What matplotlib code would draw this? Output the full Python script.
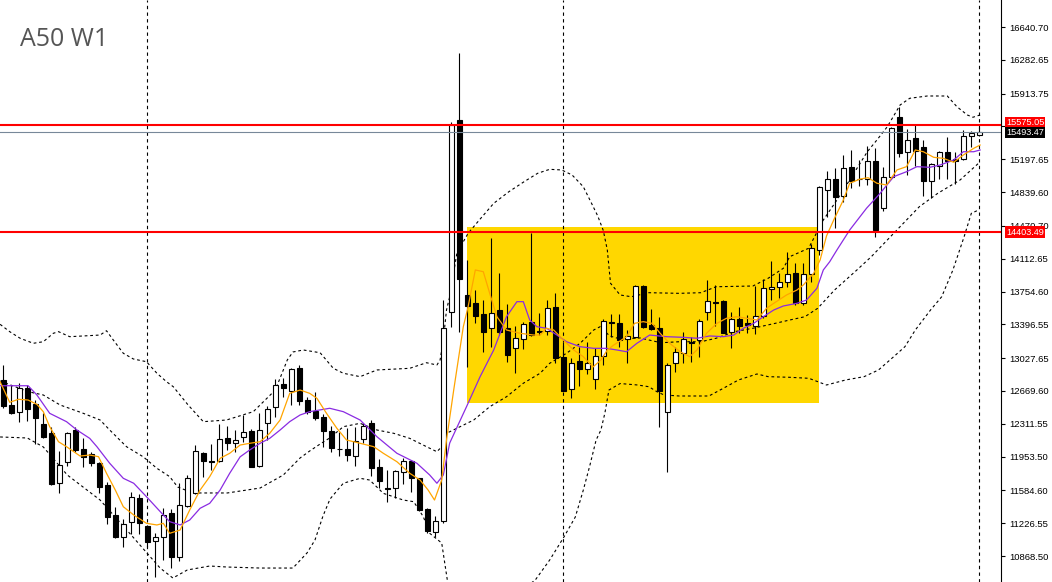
import matplotlib
matplotlib.use("Agg")
import matplotlib.pyplot as plt
import matplotlib.transforms as mtransforms
from matplotlib.patches import Rectangle

plt.rcParams['font.family'] = ['Liberation Sans', 'DejaVu Sans']

title = "A50 W1"

# Weekly OHLC (candle index 0..122, left to right)
opens = [12790, 12517, 12437, 12699, 12528, 12310, 12208, 11663, 11892, 12244,
         12037, 11979, 11881, 11641, 11317, 11073, 11237, 11499, 11197, 11036,
         11073, 11335, 10855, 11418, 11553, 11993, 11906, 11906, 12153, 12099,
         12171, 12233, 11855, 12317, 12492, 12746, 12673, 12917, 12571, 12451,
         12389, 12233, 12037, 12037, 11964, 12143, 12317, 11844, 11612, 11608,
         11789, 11906, 11717, 11379, 11135, 11251, 13531, 15626, 13717, 13626,
         13509, 13354, 13553, 13354, 13135, 13234, 13419, 13320, 13324, 13583,
         13044, 12688, 12997, 12910, 12797, 13055, 13422, 13408, 13237, 13255,
         13815, 13390, 13354, 12437, 12972, 13081, 13200, 13226, 13528, 13644,
         13651, 13316, 13452, 13408, 13379, 13491, 13779, 13801, 13855, 13960,
         13626, 13946, 14208, 14862, 14982, 14800, 15110, 14985, 14982, 15179,
         14663, 15001, 15656, 15280, 15426, 15335, 14964, 15128, 15280, 15201,
         15201, 15452, 15462]
highs = [12953, 12735, 12754, 12735, 12571, 12433, 12280, 12015, 12226, 12274,
         12153, 12007, 11898, 11680, 11407, 11273, 11571, 11543, 11208, 11124,
         11390, 11382, 11663, 11753, 12080, 12004, 12088, 12310, 12288, 12244,
         12408, 12255, 12426, 12506, 12797, 12808, 12917, 12953, 12607, 12662,
         12419, 12288, 12226, 12262, 12280, 12324, 12353, 11924, 11808, 11810,
         11935, 11920, 11725, 11390, 11306, 13662, 15604, 16354, 14099, 13771,
         13662, 14335, 13960, 13619, 13379, 13426, 14390, 13520, 13662, 13735,
         13207, 13026, 13153, 13200, 13135, 13452, 13506, 13506, 13335, 13826,
         13826, 13561, 13474, 12972, 13146, 13310, 13255, 13455, 13881, 13826,
         13662, 13535, 13583, 13499, 13818, 13888, 14088, 13954, 14189, 14063,
         14063, 14273, 14906, 15073, 15099, 15244, 15299, 15190, 15342, 15317,
         15110, 15545, 15771, 15525, 15579, 15408, 15154, 15288, 15444, 15280,
         15517, 15506, 15553]
lows = [12481, 12419, 12335, 12342, 12088, 12153, 11644, 11560, 11855, 12007,
        11844, 11855, 11560, 11219, 11066, 10971, 11109, 11109, 10971, 10644,
        10826, 10735, 10818, 11405, 11545, 11735, 11808, 11900, 12026, 12007,
        12116, 11837, 11837, 12135, 12383, 12607, 12517, 12517, 12415, 12353,
        12062, 12007, 11960, 11909, 11855, 12099, 11745, 11608, 11462, 11499,
        11652, 11571, 11360, 11124, 11073, 11233, 13371, 13316, 12935, 13408,
        13098, 13150, 13280, 12989, 12863, 13124, 13270, 13280, 13280, 12978,
        12665, 12596, 12727, 12850, 12688, 12953, 13262, 13153, 12972, 13245,
        13354, 13335, 12274, 11789, 12880, 12978, 12985, 13044, 13444, 13379,
        13299, 13135, 13299, 13299, 13288, 13463, 13662, 13681, 13801, 13608,
        13608, 13862, 14153, 14571, 14445, 14735, 14881, 14906, 14917, 14346,
        14637, 14990, 15219, 15026, 15124, 14797, 14772, 14982, 14979, 14928,
        15190, 15335, 15455]
closes = [12509, 12426, 12699, 12473, 12378, 12171, 11655, 11859, 12208, 12026,
          11953, 11887, 11625, 11298, 11073, 11215, 11510, 11233, 11025, 11080,
          11314, 10855, 11423, 11717, 12015, 11909, 11900, 12143, 12105, 12135,
          12226, 11844, 12244, 12470, 12735, 12699, 12906, 12564, 12437, 12378,
          12236, 12044, 12034, 11975, 12121, 12288, 11826, 11691, 11605, 11797,
          11906, 11717, 11371, 11145, 11251, 13354, 15572, 13888, 13597, 13491,
          13310, 13517, 13310, 13062, 13245, 13397, 13280, 13312, 13578, 13033,
          12673, 12972, 12910, 12972, 13051, 13433, 13416, 13226, 13270, 13815,
          13364, 13346, 12673, 12953, 13092, 13237, 13190, 13433, 13651, 13626,
          13306, 13452, 13382, 13390, 13491, 13790, 13801, 13855, 13946, 13626,
          13946, 14226, 14892, 14982, 14789, 15099, 14964, 14978, 15179, 14426,
          15001, 15536, 15269, 15408, 15291, 14964, 15143, 15280, 15182, 15179,
          15452, 15481, 15493.47]

# Indicator lines (x in candle-index units)
bb_upper_x = [-0.4, 0.8, 2.1, 3.75, 5, 6.25, 6.9, 8.3, 10, 12.1, 12.9, 13.75, 15, 16.25, 17.9,
              19.2, 20.4, 21.25, 23.1, 25, 27.9, 31.25, 34, 35.5, 36.2, 37.5, 39.6, 41.25, 42.5,
              44.6, 46.7, 48.3, 50.8, 52.9, 54.2, 54.6, 55, 55.4, 55.8, 56.7, 58.1, 59.5, 61.3,
              63.2, 65.1, 66.8, 68.3, 69.8, 71.1, 72.5, 73.4, 74.3, 75.0, 75.5, 75.9, 77.1,
              78.5, 80.7, 84.5, 87.2, 89.1, 93.7, 95.6, 97.5, 98.3, 100.65, 102.5, 104.2, 105.8,
              108, 109.2, 110.5, 112.1, 113.3, 115.5, 118, 119.2, 120.5, 121.2, 122.1]
bb_upper = [13397, 13317, 13245, 13190, 13207, 13299, 13317, 13262, 13270, 13280, 13327, 13226,
            13081, 13019, 12989, 12863, 12771, 12716, 12517, 12335, 12353, 12444, 12680, 13008,
            13095, 13117, 13087, 12917, 12863, 12826, 12899, 12906, 12917, 12978, 12953, 13008,
            13226, 13553, 13698, 14175, 14390, 14535, 14717, 14844, 14953, 15045, 15088, 15081,
            15026, 14898, 14740, 14580, 14420, 14208, 13845, 13717, 13698, 13742, 13735,
            13742, 13807, 13815, 13899, 14008, 14135, 14226, 14535, 14753, 14972, 15280, 15408,
            15553, 15790, 15863, 15888, 15888, 15771, 15681, 15656, 15681]

bb_mid_x = [-0.4, 3.1, 5, 7.1, 10, 12.1, 13.3, 15.4, 17.5, 19.2, 20.8, 21.8, 23.7, 28, 32.1, 35,
            37.1, 38.3, 39.6, 40.8, 42.5, 44.6, 46.7, 48.8, 50.8, 52.9, 54.2, 55, 55.4, 57.1,
            58.8, 60.8, 62.9, 65, 67.1, 68.3, 70.4, 72.1, 73.8, 74.6, 75.8, 77.1, 79.6, 82.2,
            84.5, 87.2, 89.1, 91.4, 93.7, 96.5, 98.3, 100.2, 101.8, 103.9, 106.7, 108.5, 111.3,
            114.5, 116.8, 119.6, 121.9]
bb_mid = [12779, 12662, 12626, 12517, 12426, 12353, 12244, 12062, 11951, 11826, 11735, 11622,
          11557, 11557, 11611, 11753, 11939, 12015, 12091, 12157, 12280, 12317, 12244, 12208,
          12153, 12062, 12007, 12080, 12208, 12280, 12353, 12498, 12607, 12754, 12863, 12972,
          13081, 13190, 13335, 13371, 13270, 13237, 13248, 13196, 13207, 13207, 13245, 13317,
          13354, 13408, 13444, 13480, 13572, 13771, 13990, 14135, 14390, 14680, 14826, 14972,
          15154]

bb_lower_x = [-0.4, 3, 5, 8, 12.1, 16.2, 19.6, 21.2, 23, 25.8, 28, 32.1, 36.2, 37.96, 38.96,
              39.96, 40.84, 42.5, 44.6, 45.8, 47.5, 50, 51.3, 52.5, 53.3, 54.8, 55.5, 56.1, 58.1,
              61.3, 64, 66.5, 68.3, 70.1, 71.5, 72.5, 73.3, 74.1, 74.7, 75.2, 75.7, 77.1, 79.3,
              80.7, 81.7, 82.6, 84.5, 88.2, 90, 91.9, 94.2, 95.6, 98.3, 100.7, 102.9, 105.3,
              107.6, 109.4, 111.3, 112.7, 114, 115.9, 117.3, 118.7, 120.1, 121, 121.9]
bb_lower = [12168, 12157, 12059, 11753, 11480, 11077, 10738, 10629, 10717, 10760, 10749, 10738,
            10738, 10902, 11044, 11306, 11491, 11663, 11717, 11698, 11553, 11480, 11462, 11298,
            11117, 11011, 10608, 10444, 10269, 10324, 10444, 10608, 10826, 11080, 11295, 11589,
            11851, 12135, 12244, 12430, 12680, 12751, 12735, 12716, 12662, 12626, 12615, 12615,
            12699, 12790, 12855, 12826, 12819, 12808, 12735, 12790, 12826, 12899, 13044, 13153,
            13335, 13553, 13698, 13990, 14353, 14608, 14644]

ma_slow_x = [-0.4, 3.1, 4.2, 5.8, 7.9, 9.2, 10.8, 11.7, 13.3, 15, 16.3, 17.9, 20, 20.8, 22.1,
             23.3, 24.6, 25.8, 27.1, 28.3, 29.6, 30.8, 32.1, 33.3, 34.6, 35.8, 37.1, 38.3, 40.8,
             42.5, 44.6, 46.7, 49.2, 51.7, 53.3, 54.2, 55, 55.8, 57.9, 59.6, 61.3, 62.9, 64.2,
             65, 65.8, 66.7, 67.9, 69.2, 70.4, 72.1, 73.8, 75.4, 76.7, 77.9, 79.2, 80.8, 82.9,
             85, 86.7, 88.3, 90, 91.3, 92.5, 93.8, 95, 96.3, 97.5, 99.2, 100.4, 101.7, 102.5,
             103.3, 104.2, 105.8, 107.9, 109.6, 111.3, 112.9, 114.2, 115.8, 117.1, 118.8, 120,
             121.3, 122.1]
ma_slow = [12727, 12727, 12626, 12426, 12335, 12244, 12153, 12062, 11881, 11717, 11663, 11516,
           11317, 11244, 11208, 11262, 11390, 11444, 11589, 11772, 11951, 12026, 12099, 12153,
           12244, 12335, 12408, 12444, 12481, 12444, 12353, 12171, 11990, 11881, 11753, 11663,
           11753, 12102, 12498, 12826, 13117, 13480, 13644, 13644, 13444, 13371, 13354, 13280,
           13207, 13153, 13135, 13135, 13117, 13098, 13190, 13280, 13262, 13255, 13245, 13270,
           13262, 13280, 13354, 13408, 13480, 13553, 13597, 13626, 13662, 13790, 13990, 14080,
           14208, 14426, 14663, 14826, 15008, 15062, 15117, 15110, 15135, 15190, 15280, 15280,
           15299]

ma_fast_x = [-0.4, 0.8, 1.9, 3.1, 4.2, 5, 5.8, 6.9, 7.9, 9.6, 10.8, 11.9, 12.9, 14, 15, 16.3,
             17.9, 19.2, 20, 20.8, 22.1, 23.3, 24.6, 25.8, 27.1, 28.3, 29.6, 30.8, 32.1, 33.3,
             34.6, 35.8, 37.1, 38.3, 39.2, 40.4, 41.7, 42.9, 44.6, 46.3, 47.5, 49.2, 50.8, 52.1,
             53.1, 53.9, 54.8, 55.4, 56.3, 57.5, 58.1, 59, 60, 60.8, 61.7, 62.9, 64.6, 66.3, 67.1,
             67.9, 68.8, 70, 71.3, 72.5, 73.7, 74.7, 75.5, 76.3, 77.9, 78.9, 80, 81.1, 82.1, 83.3,
             84.6, 85.8, 86.7, 87.9, 89.2, 90.4, 91.7, 92.9, 94.2, 95.4, 96.3, 97.9, 99.2, 100,
             101.3, 102.1, 102.9, 103.8, 105, 105.8, 107.1, 108.1, 109.2, 110.4, 111.7, 112.9,
             114, 115, 116.3, 117.5, 118.8, 120, 121.3, 122.1]
ma_fast = [12771, 12546, 12579, 12571, 12524, 12444, 12280, 12116, 12062, 11960, 11971, 11953,
           11772, 11589, 11407, 11317, 11226, 11208, 11226, 11117, 11153, 11371, 11589, 11735,
           11935, 11990, 12080, 12099, 12116, 12208, 12353, 12644, 12680, 12644, 12590, 12426,
           12262, 12135, 12099, 12062, 11990, 11898, 11772, 11698, 11589, 11480, 11698, 12135,
           12680, 13371, 13589, 13990, 13971, 13735, 13480, 13335, 13299, 13280, 13280, 13354,
           13335, 13226, 13117, 13044, 12931, 13008, 13117, 13171, 13262, 13408, 13426, 13408,
           13299, 13190, 13098, 13044, 13117, 13299, 13408, 13463, 13480, 13463, 13444, 13572,
           13626, 13717, 13771, 13826, 13954, 14099, 14361, 14535, 14753, 14936, 14982, 14997,
           14936, 14917, 15081, 15117, 15299, 15280, 15219, 15208, 15165, 15244, 15317, 15353]

# Horizontal levels, zone and axis ticks
resistance = 15575.05
support = 14403.49
last_price = 15493.47
zone_x = [57.9, 102.0]
zone_y = [12535, 14462]
separators = [18, 70, 122]
yticks = [16640.70, 16282.65, 15913.75, 15555.70, 15197.65, 14839.60, 14470.70, 14112.65,
          13754.60, 13396.55, 13027.65, 12669.60, 12311.55, 11953.50, 11584.60, 11226.55,
          10868.50]
hidden_ticks = [15555.70]

fig = plt.figure(figsize=(10.52, 5.82), dpi=100)
ax = fig.add_axes([0, 0, 1001 / 1052, 1])
ax.set_xlim(-0.4125, 124.71)
ax.set_ylim(10585.7, 16935.3)

# zone
ax.add_patch(Rectangle((zone_x[0], zone_y[0]), zone_x[1] - zone_x[0], zone_y[1] - zone_y[0],
                       facecolor='#FFD700', edgecolor='none', zorder=0.5))

# period separators
for s in separators:
    ax.axvline(s, color='black', lw=0.8, ls=(0, (3, 3)), zorder=1)

# Bollinger bands
for xs, ys in [(bb_upper_x, bb_upper), (bb_mid_x, bb_mid), (bb_lower_x, bb_lower)]:
    ax.plot(xs, ys, color='black', lw=0.8, ls=(0, (2.5, 2.5)), zorder=2)

# candles
idx = list(range(len(closes)))
ax.vlines(idx, lows, highs, color='black', lw=0.8, zorder=3)
bottoms = [min(o, c) for o, c in zip(opens, closes)]
heights = [max(abs(c - o), 4) for o, c in zip(opens, closes)]
fcols = ['white' if c >= o else 'black' for o, c in zip(opens, closes)]
ax.bar(idx, heights, bottom=bottoms, width=0.6, color=fcols, edgecolor='black',
       linewidth=0.8, zorder=4)

# moving averages
ax.plot(ma_slow_x, ma_slow, color='#8A2BE2', lw=0.9, zorder=5)
ax.plot(ma_fast_x, ma_fast, color='#FFA500', lw=0.9, zorder=5)

# horizontal levels
ax.axhline(last_price, color='#778899', lw=0.8, zorder=6)
ax.axhline(resistance, color='red', lw=1.5, zorder=7)
ax.axhline(support, color='red', lw=1.5, zorder=7)

# axes styling
for sp in ['left', 'top', 'bottom']:
    ax.spines[sp].set_visible(False)
ax.spines['right'].set_linewidth(0.8)
ax.spines['right'].set_color('black')
ax.set_xticks([])
ax.yaxis.tick_right()
ax.set_yticks(yticks)
ax.set_yticklabels(['' if t in hidden_ticks else f'{t:.2f}' for t in yticks])
ax.tick_params(axis='y', direction='out', length=3, width=0.8, pad=3, labelsize=6.8,
               colors='black')

# price labels on the right scale (small pixel offsets keep them side by side)
for price, fc, dy in [(resistance, 'red', 1.6), (last_price, 'black', -0.4), (support, 'red', 0.0)]:
    ax.annotate(f'{price:.2f}', xy=(1, price), xycoords=('axes fraction', 'data'),
                xytext=(3.6, dy), textcoords='offset points', ha='left', va='center',
                fontsize=6.6, color='white', annotation_clip=False, zorder=10,
                bbox=dict(boxstyle='square,pad=0.12', fc=fc, ec='none'))

fig.text(20.5 / 1052, 1 - 40 / 582, title, fontsize=18, family=['Open Sans', 'DejaVu Sans'],
         color='#555555', ha='left', va='center')

fig.savefig('out.png', dpi=100)
